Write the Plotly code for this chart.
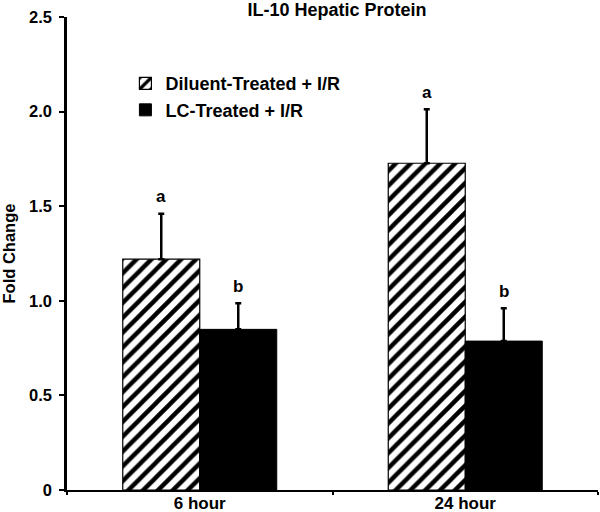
import plotly.graph_objects as go

categories = ["6 hour", "24 hour"]
diluent_values = [1.22, 1.727]
diluent_err = [0.24, 0.285]
lc_values = [0.849, 0.787]
lc_err = [0.138, 0.173]
diluent_letters = ["a", "a"]
lc_letters = ["b", "b"]
ytick_vals = [0, 0.5, 1.0, 1.5, 2.0, 2.5]
ytick_text = ["0", "0.5", "1.0", "1.5", "2.0", "2.5"]

FONT = "Liberation Sans, Arial, sans-serif"

def bold(size):
    return dict(family=FONT, size=size, color="black", weight="bold")

fig = go.Figure()
fig.add_trace(go.Bar(
    x=categories, y=diluent_values, name="Diluent-Treated + I/R",
    legendgroup="g1",
    marker=dict(color="white", line=dict(color="black", width=1.2),
                pattern=dict(shape="/", fgcolor="black", bgcolor="white",
                             fgopacity=1, size=10.5, solidity=0.42)),
    error_y=dict(type="data", array=diluent_err, arrayminus=[0, 0],
                 symmetric=False, color="black", thickness=2.5, width=3),
))
fig.add_trace(go.Bar(
    x=categories, y=lc_values, name="LC-Treated + I/R",
    legendgroup="g2",
    marker=dict(color="black", line=dict(color="black", width=1)),
    error_y=dict(type="data", array=lc_err, arrayminus=[0, 0],
                 symmetric=False, color="black", thickness=2.5, width=3),
))

# significance letters above error bars
for i, c in enumerate(categories):
    fig.add_annotation(x=c, y=diluent_values[i] + diluent_err[i], text=diluent_letters[i],
                       xshift=-38.5, yshift=17, showarrow=False, font=bold(17))
    fig.add_annotation(x=c, y=lc_values[i] + lc_err[i], text=lc_letters[i],
                       xshift=38.5, yshift=17, showarrow=False, font=bold(17))

fig.update_layout(
    width=600, height=512,
    margin=dict(l=67, r=2, t=17, b=22),
    paper_bgcolor="white", plot_bgcolor="white",
    barmode="group", bargap=0.42, bargroupgap=0,
    font=bold(17),
    title=dict(text="IL-10 Hepatic Protein", x=337/600, xanchor="center",
               xref="container", yref="container", y=1 - 10/512, yanchor="middle",
               font=bold(18)),
    legend=dict(x=0.110, y=0.898, xanchor="left", yanchor="top",
                bgcolor="rgba(0,0,0,0)", tracegroupgap=0,
                traceorder="grouped", font=bold(18)),
    showlegend=True,
)
fig.update_xaxes(
    type="category", range=[-0.5, 1.5], automargin=False,
    showline=True, linecolor="black", linewidth=2,
    ticks="outside", tickson="boundaries", ticklen=3, tickwidth=2, tickcolor="black",
    ticklabelstandoff=-3,
    showgrid=False, zeroline=False,
    tickfont=bold(17),
)
fig.update_yaxes(
    range=[0, 2.5], tickvals=ytick_vals, ticktext=ytick_text, automargin=False,
    showline=True, linecolor="black", linewidth=2.5,
    ticks="outside", ticklen=5, tickwidth=2, tickcolor="black",
    ticklabelstandoff=4,
    showgrid=False, zeroline=False,
    title=dict(text="Fold Change", standoff=14, font=bold(16.5)),
    tickfont=bold(16.5),
)

fig.write_html("out.html", config={"displayModeBar": False},
               post_script="document.body.style.margin='0';")
